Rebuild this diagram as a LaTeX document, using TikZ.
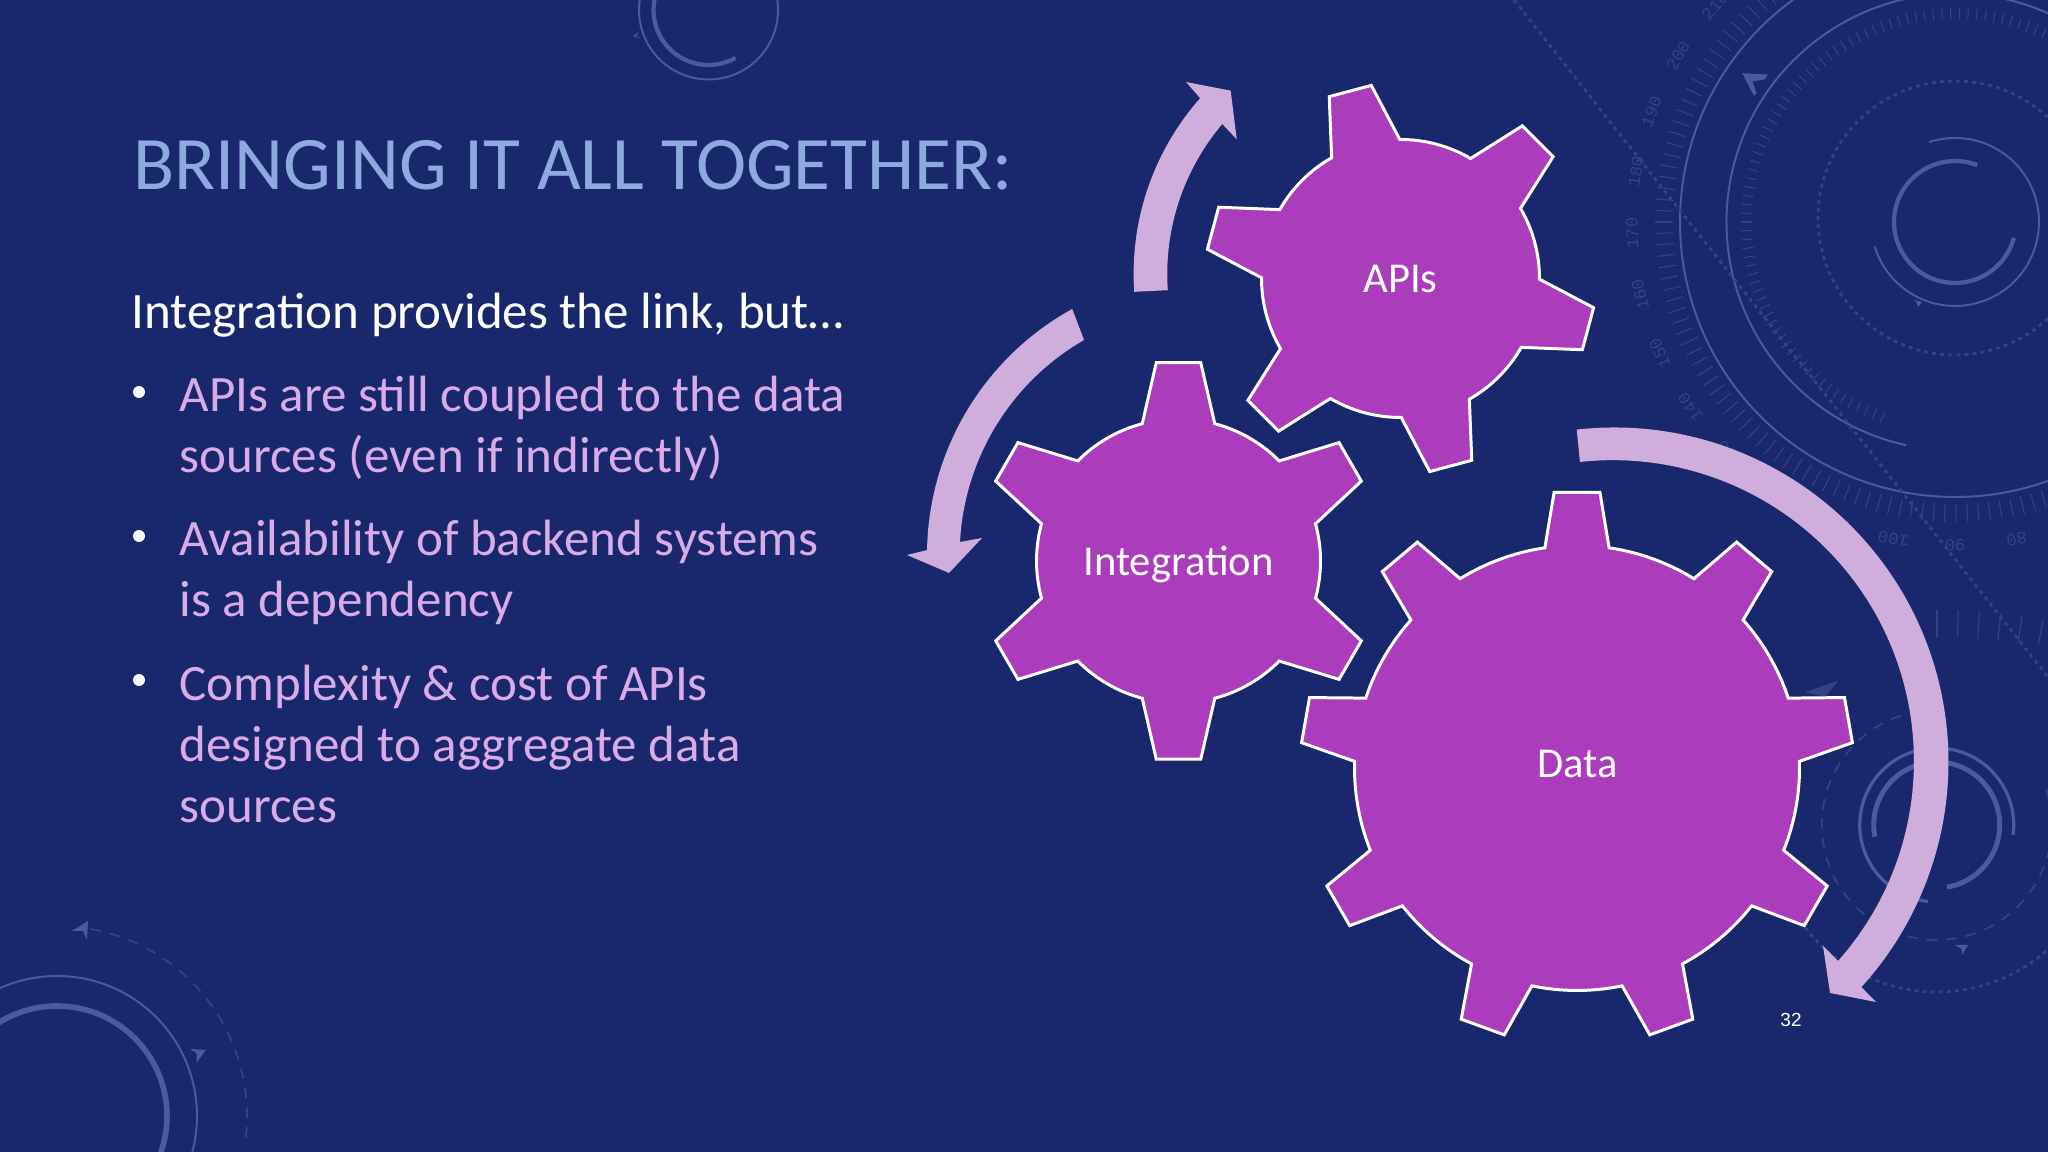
\documentclass[tikz,border=0pt]{standalone}
\usepackage{fontspec}
\setmainfont{Carlito}
\newfontfamily\numfont{Liberation Mono}
\newfontfamily\pagefont{Liberation Sans}
\definecolor{slidebg}{HTML}{19286C}
\definecolor{gearfill}{HTML}{AB3CBC}
\definecolor{arrowfill}{HTML}{CFADDC}
\definecolor{titleblue}{HTML}{8EA9E0}
\definecolor{bodypurple}{HTML}{D9ABE8}
\definecolor{dialring}{HTML}{4B5B9A}
\definecolor{dialdim}{HTML}{33437F}
\tikzset{
  gearbody/.style={draw=white, fill=gearfill, line width=0.85pt},
  gearlabel/.style={text=white, anchor=base, inner sep=0pt, font=\fontsize{12.1}{14}\selectfont},
  bodyline/.style={anchor=base west, inner sep=0pt, align=left, font=\fontsize{14.5}{17.4}\selectfont},
  ringthin/.style={draw=dialring, line width=0.55pt},
  ringthick/.style={draw=dialring, line width=1.2pt},
  dialtick/.style={draw=dialdim, line width=0.3pt},
  dialdots/.style={draw=dialdim, line width=0.8pt, dash pattern=on 1.1pt off 1.2pt},
  dialdash/.style={draw=dialdim, line width=0.5pt, dash pattern=on 3pt off 2.6pt},
  dialmark/.style={fill=dialring},
  dialnum/.style={text=dialdim, inner sep=0pt, font=\numfont\fontsize{4.9}{6}\selectfont}
}
% centre x, centre y, root radius, tip radius, first tooth, tooth step, last index, tip half angle, root half angle
\newcommand{\gearshape}[9]{
  \draw [gearbody, shift={(#1,#2)}] ({#5+#9}:#3)
    \foreach \k [evaluate=\k as \c using #5-\k*#6] in {0,...,#7} {
      -- ({\c+#8}:#4) -- ({\c-#8}:#4) -- ({\c-#9}:#3)
      arc [start angle=\c-#9, end angle=\c-#6+#9, radius=#3]
    } -- cycle;
}
\begin{document}
\begin{tikzpicture}[x=0.01cm, y=0.01cm]
  \clip (0,0) rectangle (2048,1152);
  \fill [slidebg] (0,0) rectangle (2048,1152);

  % big dial, top right
  \begin{scope}[shift={(1955,930)}]
    \draw [ringthin] (0,0) circle [radius=275];
    \draw [ringthin] (257.6:228.5) arc [start angle=257.6, end angle=30, radius=228.5];
    \draw [ringthick] (68.6:61) arc [start angle=68.6, end angle=345, radius=61];
    \draw [ringthin] (107.9:84) arc [start angle=107.9, end angle=-163, radius=84];
    \draw [dialdots] (0,4) circle [radius=137];
    \foreach \a in {125,127.2,...,300}
      \draw [dialtick] (\a:282) -- (\a:300);
    \foreach \a in {60,62.4,...,251}
      \draw [dialtick] (\a:203) -- (\a:214);
    \foreach \v in {70,80,...,210}
      \node (num\v) [dialnum, rotate={279-1.1*\v}] at ({369-1.1*\v}:323) {\v};
  \end{scope}
  \draw [dialdots] (1514,1152) -- (2048,475);
  \fill [dialmark] (1742.2,1078.8) -- (1768,1077.4) -- (1765,1072.7) -- (1752.4,1070.6) -- (1756.6,1058.4) -- (1753.8,1056.3) -- cycle;
  \fill [dialmark] (1914,852) -- (1922,850) -- (1918,845) -- (1917,849) -- cycle;

  % small dial, bottom right
  \begin{scope}[shift={(1936.7,327)}]
    \draw [ringthin, line width=0.9pt] (-7.4:77) arc [start angle=-7.4, end angle=263.6, radius=77];
    \draw [ringthick, line width=1.4pt] (190.7:63) arc [start angle=190.7, end angle=-80.5, radius=63];
    \draw [dialdash] (108:115) arc [start angle=108, end angle=381, radius=115];
    \draw [dialdots] (218:167) arc [start angle=218, end angle=330, radius=167];
  \end{scope}
  \foreach \a in {90,88,...,80}
    \draw [dialtick, shift={(1937,-68)}] (\a:583) -- (\a:610);
  \fill [dialmark] (1955,207) -- (1968,207) -- (1962,197) -- (1961.5,203) -- cycle;
  \fill [dialdim] (1838,471) -- (1805,460) -- (1825,455) -- cycle;

  % dial, bottom left
  \draw [ringthin] (57,36) circle [radius=140];
  \draw [ringthick, line width=1.6pt] (57,36) circle [radius=110];
  \draw [dialdash] ([shift={(57,36)}]79.8:190) arc [start angle=79.8, end angle=-9, radius=190];
  \fill [dialmark] (190,103) -- (205.7,102) -- (196.7,89.3) -- (196.7,98.7) -- cycle;
  \fill [dialmark] (72,221) -- (88,231) -- (87,212) -- (83,221) -- cycle;

  % dial, top
  \draw [ringthin] (708.5,1142) circle [radius=69.5];
  \draw [ringthick] ([shift={(708.5,1142)}]-60.6:55) arc [start angle=-60.6, end angle=-200, radius=55];
  \fill [dialmark] (639,1120) -- (633,1116) -- (640,1114) -- (636,1116) -- cycle;

  % turning arrows
  \fill [arrowfill] ([shift={(1398.6,878.2)}]183.9:265) arc [start angle=183.9, end angle=138.5, radius=265]
    -- (1186,1070) -- (1230.7,1061.3) -- (1236.7,1012.7) -- (1222.3,1028)
    arc [start angle=139.7, end angle=184, radius=232] -- cycle;
  \fill [arrowfill] ([shift={(1208,597)}]118.9:281) arc [start angle=118.9, end angle=179, radius=281]
    -- (907,597) -- (949,579) -- (982,614) -- (960,610)
    arc [start angle=177, end angle=119.9, radius=248] -- cycle;
  \fill [arrowfill] ([shift={(1614,390)}]96.4:334.5) arc [start angle=96.4, end angle=-42.3, radius=334.5]
    -- (1876,150) -- (1830,159) -- (1823,206) -- (1838,191)
    arc [start angle=-41.6, end angle=96.3, radius=301] -- cycle;

  % gears
  \gearshape{1400.5}{873.5}{139}{195.3}{105}{60}{5}{6.4}{14.7}
  \gearshape{1178.5}{591}{142}{199.5}{90}{60}{5}{6.4}{14.8}
  \gearshape{1577}{384}{222.5}{276.6}{90}{40}{8}{4.75}{8.3}
  \node (apis) [gearlabel] at (1400.5,859) {APIs};
  \node (integration) [gearlabel] at (1178.5,576) {Integration};
  \node (data) [gearlabel] at (1577.5,374) {Data};

  % slide text
  \node (title) [anchor=base west, inner sep=0pt, text=titleblue, font=\fontsize{21.5}{24}\selectfont] at (133,962) {BRINGING IT ALL TOGETHER:};
  \node (intro) [bodyline, text=white] at (131,823) {Integration provides the link, but\dots};
  \node (first) [bodyline, text=bodypurple] at (179,679) {APIs are still coupled to the data\\sources (even if indirectly)};
  \node (second) [bodyline, text=bodypurple] at (179,535) {Availability of backend systems\\is a dependency};
  \node (third) [bodyline, text=bodypurple] at (179,329) {Complexity \& cost of APIs\\designed to aggregate data\\sources};
  \foreach \n/\y in {a/760,b/616,c/472}
    \node (dot\n) [fill=white, circle, inner sep=0pt, minimum size=3.4pt] at (139,\y) {};
  \node (pagenum) [text=white, inner sep=0pt, anchor=base, font=\pagefont\fontsize{5.4}{6}\selectfont] at (1791,125) {32};
\end{tikzpicture}
\end{document}
